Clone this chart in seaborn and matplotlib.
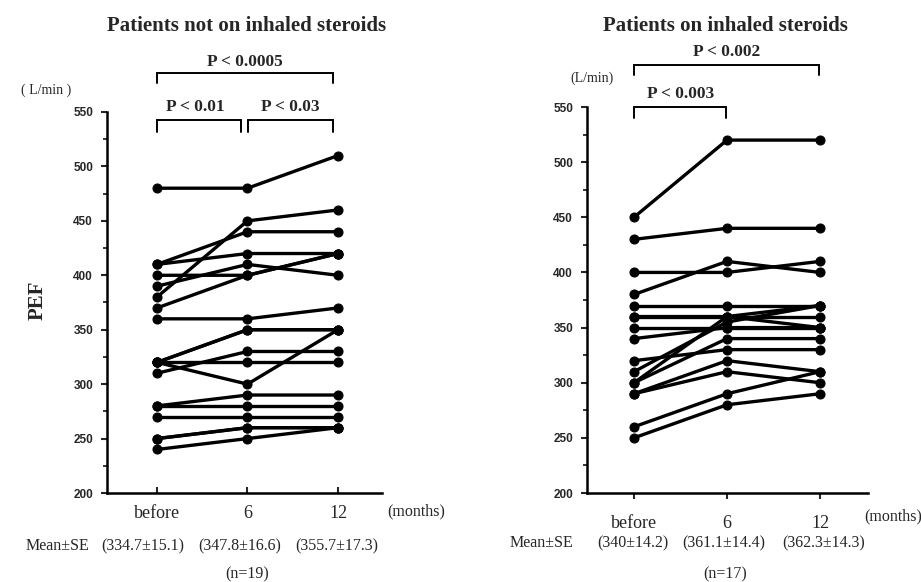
import numpy as np
import pandas as pd
import matplotlib
matplotlib.use("Agg")
import matplotlib.pyplot as plt
import seaborn as sns
from matplotlib.ticker import MultipleLocator

# ---------------- data ----------------
categories = ["before", "6", "12"]

# Patients not on inhaled steroids (n=19)
left_before = [480, 410, 410, 400, 390, 380, 370, 360, 320, 320, 310, 320, 280, 280, 270, 250, 240, 320, 250]
left_6m     = [480, 440, 420, 400, 410, 450, 400, 360, 350, 300, 330, 320, 290, 280, 270, 260, 250, 350, 260]
left_12m    = [510, 440, 420, 420, 400, 460, 420, 370, 350, 350, 330, 320, 290, 280, 270, 260, 260, 350, 260]

# Patients on inhaled steroids (n=17)
right_before = [450, 430, 400, 380, 370, 360, 350, 340, 300, 310, 320, 300, 290, 290, 260, 250, 360]
right_6m     = [520, 440, 400, 410, 370, 360, 350, 350, 360, 355, 330, 340, 320, 310, 290, 280, 360]
right_12m    = [520, 440, 410, 400, 370, 360, 350, 350, 370, 370, 330, 340, 310, 300, 310, 290, 350]

left_title = "Patients not on inhaled steroids"
right_title = "Patients on inhaled steroids"
left_means = ["(334.7\u00b115.1)", "(347.8\u00b116.6)", "(355.7\u00b117.3)"]
right_means = ["(340\u00b114.2)", "(361.1\u00b114.4)", "(362.3\u00b114.3)"]
left_n = "(n=19)"
right_n = "(n=17)"

# ---------------- style ----------------
sns.set_style("ticks")
plt.rcParams['font.family'] = ['Liberation Serif', 'DejaVu Serif']

W, H = 921, 582
fig = plt.figure(figsize=(W / 100, H / 100), dpi=100)


def fx(px):
    return px / W


def fy(py):
    return 1 - py / H


def make_df(b, s, t):
    rows = []
    for i, vals in enumerate(zip(b, s, t)):
        for k, v in enumerate(vals):
            rows.append(dict(pid=i, x=k, pef=v))
    return pd.DataFrame(rows)


def draw_panel(ax, df, xlim, xtick_dir, xpad):
    sns.lineplot(data=df, x="x", y="pef", units="pid", estimator=None,
                 color="black", lw=2.4, marker="o", markersize=6.5,
                 markeredgecolor="black", legend=False, sort=False, ax=ax)
    ax.set_xlim(*xlim)
    ax.set_ylim(200, 550)
    ax.yaxis.set_major_locator(MultipleLocator(50))
    ax.yaxis.set_minor_locator(MultipleLocator(25))
    ax.set_xticks([0, 1, 2])
    ax.set_xticklabels(categories, fontsize=13, family='Liberation Serif')
    ax.set_xlabel("")
    ax.set_ylabel("")
    for s in ("top", "right"):
        ax.spines[s].set_visible(False)
    for s in ("left", "bottom"):
        ax.spines[s].set_linewidth(1.8)
        ax.spines[s].set_color("black")
    ax.tick_params(axis="y", which="major", direction="out", length=4, width=1.5,
                   labelsize=8.5, pad=6)
    ax.tick_params(axis="y", which="minor", direction="out", length=3, width=1.3)
    ax.tick_params(axis="x", which="major", direction=xtick_dir, length=4, width=1.5,
                   pad=xpad)
    for lbl in ax.get_yticklabels():
        lbl.set_family("Liberation Sans")
        lbl.set_fontweight("bold")
    ax.set_facecolor("white")


axL = fig.add_axes([fx(107), fy(493), fx(382) - fx(107), fy(112) - fy(493)])
axR = fig.add_axes([fx(587), fy(493), fx(868) - fx(587), fy(107) - fy(493)])

draw_panel(axL, make_df(left_before, left_6m, left_12m), (-0.552, 2.486), "in", 9)
draw_panel(axR, make_df(right_before, right_6m, right_12m), (-0.505, 2.516), "out", 12)


def bracket(ax, x0, x1, ytop, ybot, lw=1.4):
    ax.plot([x0, x0, x1, x1], [ybot, ytop, ytop, ybot], color="black", lw=lw,
            clip_on=False, solid_joinstyle="miter")


pfont = dict(family="Liberation Serif", fontweight="bold", fontsize=12.5,
             ha="center", va="center")

# left brackets
bracket(axL, 0.0, 1.95, 586, 577)
axL.text(0.97, 596, "P < 0.0005", clip_on=False, **pfont)
bracket(axL, 0.0, 0.93, 543, 532)
axL.text(0.42, 555, "P < 0.01", clip_on=False, **pfont)
bracket(axL, 1.01, 1.95, 543, 532)
axL.text(1.47, 555, "P < 0.03", clip_on=False, **pfont)

# right brackets
bracket(axR, 0.0, 1.99, 588, 579)
axR.text(1.0, 600, "P < 0.002", clip_on=False, **pfont)
bracket(axR, 0.0, 0.99, 550, 540)
axR.text(0.5, 562, "P < 0.003", clip_on=False, **pfont)

# titles
tfont = dict(family="Liberation Serif", fontweight="bold", fontsize=15,
             ha="center", va="center")
fig.text(fx(247), fy(26), left_title, **tfont)
fig.text(fx(725), fy(26), right_title, **tfont)

# units and PEF label
fig.text(fx(46), fy(90), "( L/min )", family="Liberation Serif", fontsize=10,
         ha="center", va="center")
fig.text(fx(592), fy(78), "(L/min)", family="Liberation Serif", fontsize=10,
         ha="center", va="center")
fig.text(fx(38), fy(300), "PEF", family="Liberation Serif", fontweight="bold",
         fontsize=15, rotation=90, ha="center", va="center")

# months
fig.text(fx(416), fy(511), "(months)", family="Liberation Serif", fontsize=11.5,
         ha="center", va="center")
fig.text(fx(893), fy(516), "(months)", family="Liberation Serif", fontsize=11.5,
         ha="center", va="center")

# Mean +- SE rows
mfont = dict(family="Liberation Serif", fontsize=11.5, ha="center", va="center")
fig.text(fx(57), fy(546), "Mean\u00b1SE", **mfont)
for xc, s in zip([143, 240, 337], left_means):
    fig.text(fx(xc), fy(546), s, **mfont)
fig.text(fx(541), fy(543), "Mean\u00b1SE", **mfont)
for xc, s in zip([633, 724, 824], right_means):
    fig.text(fx(xc), fy(543), s, **mfont)

fig.text(fx(247), fy(574), left_n, **mfont)
fig.text(fx(725), fy(574), right_n, **mfont)

fig.savefig("out.png", dpi=100, facecolor="white")
